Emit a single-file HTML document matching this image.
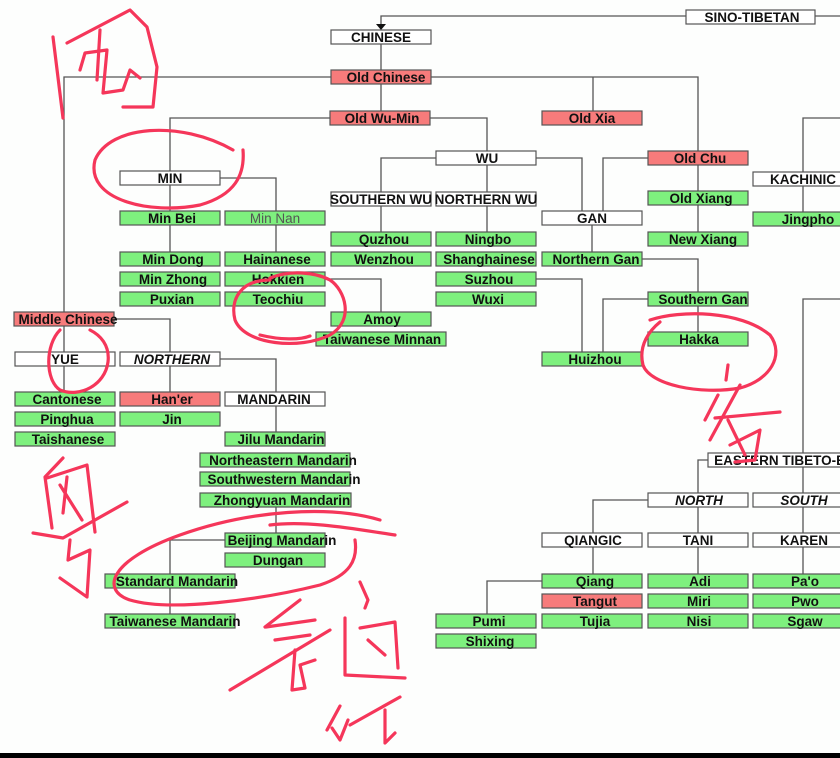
<!DOCTYPE html>
<html><head><meta charset="utf-8"><style>
html,body{margin:0;padding:0;background:#fdfefd;}
svg{display:block}
text{font-family:"Liberation Sans",sans-serif;font-weight:bold;font-size:13.5px;fill:#111;text-anchor:middle}
.g{fill:#7ef07e;stroke:#555;stroke-width:1.2}
.r{fill:#f77b7b;stroke:#555;stroke-width:1.2}
.w{fill:#fff;stroke:#555;stroke-width:1.2}
.l{fill:none;stroke:#555;stroke-width:1.3}
.h{fill:none;stroke:#f5365a;stroke-width:3.2;stroke-linecap:round;stroke-linejoin:round}
</style></head><body>
<svg width="840" height="758" viewBox="0 0 840 758" xmlns="http://www.w3.org/2000/svg">
<g class="l">
<path d="M686 16H381V26"/><path d="M815 16H840"/>
<path d="M381 44V70"/>
<path d="M331 77H64V312"/>
<path d="M431 77H698V151"/><path d="M593 77V111"/>
<path d="M381 84V111"/>
<path d="M330 118H170V171"/><path d="M430 118H487V151"/>
<path d="M436 158H381V232"/><path d="M487 165V232"/><path d="M536 158H582V211"/>
<path d="M648 158H603V211"/><path d="M698 165V232"/>
<path d="M840 118H803V172"/><path d="M803 186V212"/>
<path d="M170 185V252"/><path d="M220 178H276V252"/>
<path d="M325 279H381V312"/>
<path d="M592 225V252"/><path d="M642 259H698V332"/>
<path d="M648 299H603V352"/><path d="M536 279H582V352"/>
<path d="M840 299H803V533"/><path d="M803 547V574"/>
<path d="M708 460H698V574"/>
<path d="M648 500H593V574"/><path d="M542 581H487V614"/>
<path d="M64 326V392"/><path d="M114 319H170V392"/>
<path d="M220 359H276V432"/>
<path d="M276 507V533"/><path d="M225 540H170V614"/>
</g>
<path d="M376 24H386L381 30Z" fill="#111"/>
<rect class="w" x="686" y="10" width="129" height="14"/><text x="752" y="22">SINO-TIBETAN</text>
<rect class="w" x="331" y="30" width="100" height="14"/><text x="381" y="42">CHINESE</text>
<rect class="r" x="331" y="70" width="100" height="14"/><text x="386" y="82">Old Chinese</text>
<rect class="r" x="330" y="111" width="100" height="14"/><text x="382" y="123">Old Wu-Min</text>
<rect class="r" x="542" y="111" width="100" height="14"/><text x="592" y="123">Old Xia</text>
<rect class="w" x="436" y="151" width="100" height="14"/><text x="487" y="163">WU</text>
<rect class="r" x="648" y="151" width="100" height="14"/><text x="700" y="163">Old Chu</text>
<rect class="w" x="120" y="171" width="100" height="14"/><text x="170" y="183">MIN</text>
<rect class="w" x="331" y="192" width="100" height="14"/><text x="381" y="204">SOUTHERN WU</text>
<rect class="w" x="436" y="192" width="100" height="14"/><text x="486" y="204">NORTHERN WU</text>
<rect class="w" x="753" y="172" width="95" height="14"/><text x="803" y="184">KACHINIC</text>
<rect class="g" x="120" y="211" width="100" height="14"/><text x="172" y="223">Min Bei</text>
<rect class="g" x="225" y="211" width="100" height="14"/><text x="275" y="223" style="font-weight:normal;fill:#555">Min Nan</text>
<rect class="g" x="648" y="191" width="100" height="14"/><text x="701" y="203">Old Xiang</text>
<rect class="g" x="753" y="212" width="95" height="14"/><text x="808" y="224">Jingpho</text>
<rect class="w" x="542" y="211" width="100" height="14"/><text x="592" y="223">GAN</text>
<rect class="g" x="331" y="232" width="100" height="14"/><text x="384" y="244">Quzhou</text>
<rect class="g" x="436" y="232" width="100" height="14"/><text x="488" y="244">Ningbo</text>
<rect class="g" x="648" y="232" width="100" height="14"/><text x="703" y="244">New Xiang</text>
<rect class="g" x="120" y="252" width="100" height="14"/><text x="173" y="264">Min Dong</text>
<rect class="g" x="225" y="252" width="100" height="14"/><text x="277" y="264">Hainanese</text>
<rect class="g" x="331" y="252" width="100" height="14"/><text x="384" y="264">Wenzhou</text>
<rect class="g" x="436" y="252" width="100" height="14"/><text x="489" y="264">Shanghainese</text>
<rect class="g" x="542" y="252" width="100" height="14"/><text x="596" y="264">Northern Gan</text>
<rect class="g" x="120" y="272" width="100" height="14"/><text x="173" y="284">Min Zhong</text>
<rect class="g" x="225" y="272" width="100" height="14"/><text x="278" y="284">Hokkien</text>
<rect class="g" x="436" y="272" width="100" height="14"/><text x="489" y="284">Suzhou</text>
<rect class="g" x="120" y="292" width="100" height="14"/><text x="172" y="304">Puxian</text>
<rect class="g" x="225" y="292" width="100" height="14"/><text x="278" y="304">Teochiu</text>
<rect class="g" x="436" y="292" width="100" height="14"/><text x="488" y="304">Wuxi</text>
<rect class="g" x="648" y="292" width="100" height="14"/><text x="703" y="304">Southern Gan</text>
<rect class="r" x="14" y="312" width="100" height="14"/><text x="68" y="324">Middle Chinese</text>
<rect class="g" x="331" y="312" width="100" height="14"/><text x="382" y="324">Amoy</text>
<rect class="g" x="316" y="332" width="130" height="14"/><text x="382" y="344">Taiwanese Minnan</text>
<rect class="g" x="648" y="332" width="100" height="14"/><text x="699" y="344">Hakka</text>
<rect class="w" x="15" y="352" width="100" height="14"/><text x="65" y="364">YUE</text>
<rect class="w" x="120" y="352" width="100" height="14"/><text x="172" y="364" style="font-style:italic">NORTHERN</text>
<rect class="g" x="542" y="352" width="100" height="14"/><text x="595" y="364">Huizhou</text>
<rect class="g" x="15" y="392" width="100" height="14"/><text x="67" y="404">Cantonese</text>
<rect class="r" x="120" y="392" width="100" height="14"/><text x="172" y="404">Han'er</text>
<rect class="w" x="225" y="392" width="100" height="14"/><text x="274" y="404">MANDARIN</text>
<rect class="g" x="15" y="412" width="100" height="14"/><text x="67" y="424">Pinghua</text>
<rect class="g" x="120" y="412" width="100" height="14"/><text x="172" y="424">Jin</text>
<rect class="g" x="15" y="432" width="100" height="14"/><text x="68" y="444">Taishanese</text>
<rect class="g" x="225" y="432" width="100" height="14"/><text x="281" y="444">Jilu Mandarin</text>
<rect class="g" x="200" y="453" width="150" height="14"/><text x="283" y="465">Northeastern Mandarin</text>
<rect class="g" x="200" y="472" width="150" height="14"/><text x="284" y="484">Southwestern Mandarin</text>
<rect class="g" x="200" y="493" width="151" height="14"/><text x="282" y="505">Zhongyuan Mandarin</text>
<rect class="w" x="708" y="453" width="140" height="14"/><text x="780" y="465">EASTERN TIBETO-B</text>
<rect class="w" x="648" y="493" width="100" height="14"/><text x="699" y="505" style="font-style:italic">NORTH</text>
<rect class="w" x="753" y="493" width="95" height="14"/><text x="804" y="505" style="font-style:italic">SOUTH</text>
<rect class="g" x="225" y="533" width="100" height="14"/><text x="282" y="545">Beijing Mandarin</text>
<rect class="w" x="542" y="533" width="100" height="14"/><text x="593" y="545">QIANGIC</text>
<rect class="w" x="648" y="533" width="100" height="14"/><text x="698" y="545">TANI</text>
<rect class="w" x="753" y="533" width="95" height="14"/><text x="804" y="545">KAREN</text>
<rect class="g" x="225" y="553" width="100" height="14"/><text x="278" y="565">Dungan</text>
<rect class="g" x="105" y="574" width="130" height="14"/><text x="177" y="586">Standard Mandarin</text>
<rect class="g" x="542" y="574" width="100" height="14"/><text x="595" y="586">Qiang</text>
<rect class="g" x="648" y="574" width="100" height="14"/><text x="700" y="586">Adi</text>
<rect class="g" x="753" y="574" width="95" height="14"/><text x="805" y="586">Pa'o</text>
<rect class="r" x="542" y="594" width="100" height="14"/><text x="595" y="606">Tangut</text>
<rect class="g" x="648" y="594" width="100" height="14"/><text x="699" y="606">Miri</text>
<rect class="g" x="753" y="594" width="95" height="14"/><text x="805" y="606">Pwo</text>
<rect class="g" x="105" y="614" width="130" height="14"/><text x="175" y="626">Taiwanese Mandarin</text>
<rect class="g" x="436" y="614" width="100" height="14"/><text x="489" y="626">Pumi</text>
<rect class="g" x="542" y="614" width="100" height="14"/><text x="595" y="626">Tujia</text>
<rect class="g" x="648" y="614" width="100" height="14"/><text x="699" y="626">Nisi</text>
<rect class="g" x="753" y="614" width="95" height="14"/><text x="805" y="626">Sgaw</text>
<rect class="g" x="436" y="634" width="100" height="14"/><text x="490" y="646">Shixing</text>
<g class="h">
<path d="M53 37L63 118"/>
<path d="M67 43L130 10L147 27L157 67L153 107L123 107"/>
<path d="M80 70L85 53L107 50L103 93L123 90L130 70L140 78"/>
<path d="M100 30L97 80"/>
<path d="M233 150C180 120 110 125 95 160C85 200 150 215 200 205C235 195 245 175 243 150"/>
<path d="M270 280C240 280 230 300 235 320C245 345 300 350 330 335C355 320 345 290 330 280C315 272 290 270 270 278"/>
<path d="M260 335C280 340 300 340 310 336"/>
<path d="M60 330C45 345 45 380 60 390C80 398 105 385 108 362C110 345 100 335 90 330"/>
<path d="M63 458L45 477L52 528"/><path d="M47 478L87 465L95 532"/>
<path d="M60 485L82 520"/><path d="M67 477L63 513"/>
<path d="M33 533L63 538L127 502"/>
<path d="M70 540L68 560L90 550L87 597L60 578"/>
<path d="M650 320C680 310 740 310 770 335C785 355 770 380 740 388C700 395 650 385 643 365C638 345 650 330 660 322"/>
<path d="M728 365L726 380"/><path d="M718 395L705 420"/><path d="M740 385L710 440"/>
<path d="M715 418L780 412"/><path d="M728 420L745 455"/><path d="M730 445L760 430L755 460L735 462"/>
<path d="M380 520C330 505 250 510 180 535C110 560 100 590 130 600C170 612 260 600 320 585C350 575 358 560 355 540"/>
<path d="M270 525C310 520 360 530 395 535"/>
<path d="M300 600L265 627"/><path d="M266 627L315 620"/>
<path d="M275 640L310 635"/><path d="M230 690L330 630"/>
<path d="M295 650L292 690L305 688L300 665L315 660"/>
<path d="M360 582L368 600L365 608"/>
<path d="M345 618L345 675L405 678"/><path d="M360 628L395 622L398 668"/>
<path d="M368 640L385 655"/>
<path d="M340 706L327 730"/><path d="M332 728L340 740L348 720"/>
<path d="M350 725L400 697"/><path d="M385 710L385 743L395 733"/>
</g>
<rect x="0" y="753" width="840" height="5" fill="#000"/>
</svg>
</body></html>
